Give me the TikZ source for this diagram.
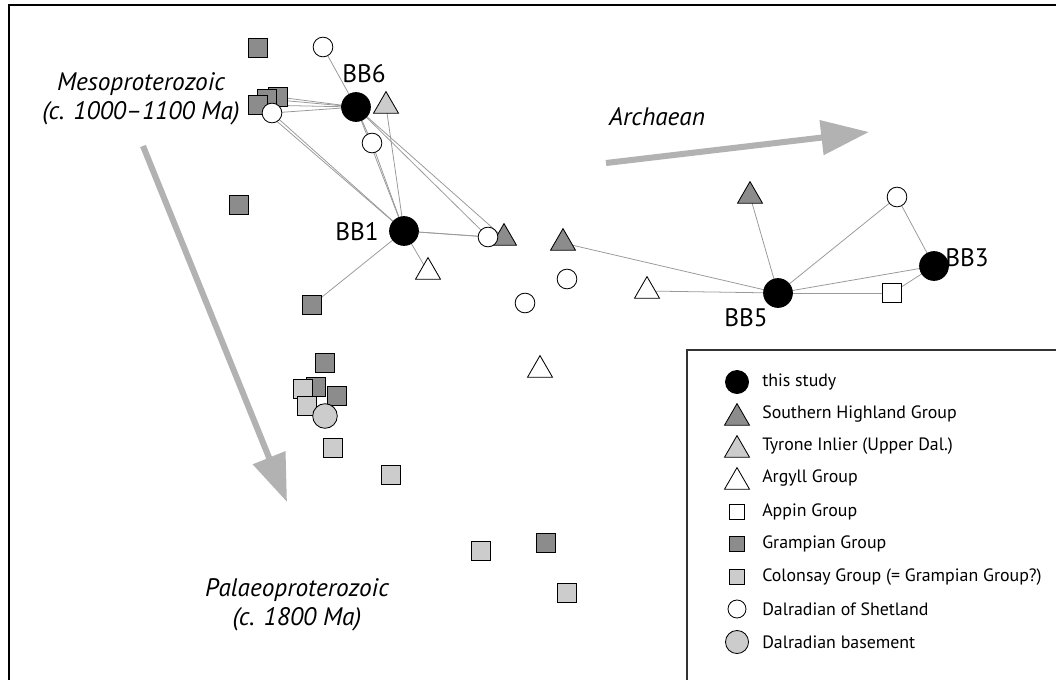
\documentclass[tikz,border=0pt]{standalone}
\usepackage{fontspec}
\setmainfont{PT Sans}
\usetikzlibrary{shapes.geometric,arrows.meta,backgrounds}

\definecolor{darkgrey}{gray}{0.55}
\definecolor{lightgrey}{gray}{0.8}
\definecolor{arrowgrey}{gray}{0.7}
\definecolor{linkgrey}{gray}{0.6}

\tikzset{
  sample/.style={draw=black, line width=0.6pt, inner sep=0pt, outer sep=0pt},
  thisstudy/.style={sample, circle, fill=black, minimum size=20.5pt},
  shg/.style={sample, regular polygon, regular polygon sides=3, fill=darkgrey, minimum size=20.5pt},
  tyrone/.style={shg, fill=lightgrey},
  argyll/.style={shg, fill=white},
  appin/.style={sample, rectangle, fill=white, minimum size=13pt},
  grampian/.style={appin, fill=darkgrey},
  colonsay/.style={appin, fill=lightgrey},
  shetland/.style={sample, circle, fill=white, minimum size=14pt},
  basement/.style={sample, circle, fill=lightgrey, minimum size=17.5pt},
  link/.style={draw=linkgrey, line width=0.55pt},
  trend/.style={draw=arrowgrey, line width=4.3pt, -{Triangle[length=34pt,width=24pt]}},
  era/.style={font=\fontsize{18}{21}\selectfont\itshape, align=center},
  sitelabel/.style={font=\fontsize{18}{21}\selectfont},
  keytext/.style={font=\fontsize{12.7}{15}\selectfont, anchor=west, inner sep=0pt}
}

\begin{document}
\begin{tikzpicture}[x=0.025cm, y=-0.025cm]
  \useasboundingbox (0,0) rectangle (1056,679);
  \clip (0,0) rectangle (1056,679);

  % Frame
  \draw[line width=1.4pt] (9,685) -- (9,5) -- (1062,5);

  % Trends
  \coordinate (mesoStart) at (143,146);
  \coordinate (mesoEnd) at (287,502);
  \coordinate (archStart) at (606,163);
  \coordinate (archEnd) at (869,132);
  \draw[trend] (mesoStart) -- (mesoEnd);
  \draw[trend] (archStart) -- (archEnd);

  \node[era] (meso) at (141,99) {Mesoproterozoic\\(c. 1000--1100 Ma)};
  \node[era] (palaeo) at (297,605) {Palaeoproterozoic\\(c. 1800 Ma)};
  \node[era] (arch) at (657,117) {Archaean};

  % Top-left group
  \node[grampian] (gA) at (258,48) {};
  \node[shetland] (shA) at (323,47) {};
  \node[grampian] (gD) at (278,97) {};
  \node[grampian] (gC) at (267,99) {};
  \node[grampian] (gB) at (258,105) {};
  \node[shetland] (shB) at (272,113) {};
  \node[thisstudy] (bb6) at (356,107) {};
  \node[tyrone] (tyA) at (386,106) {};
  \node[shetland] (shC) at (372,143) {};
  \node[grampian] (gE) at (239,205) {};
  \node[thisstudy] (bb1) at (404,231) {};
  \node[shg] (shgA) at (504,238) {};
  \node[shetland] (shD) at (488,237) {};
  \node[shg] (shgB) at (563,243) {};
  \node[argyll] (arA) at (428,272) {};
  \node[shetland] (shE) at (567,279) {};
  \node[shetland] (shF) at (525,303) {};
  \node[grampian] (gF) at (312,305) {};
  \node[argyll] (arB) at (540,370) {};

  \node[sitelabel] (bb6lbl) at (364,74) {BB6};
  \node[sitelabel] (bb1lbl) at (357,232) {BB1};

  % Right group
  \node[shg] (shgC) at (750,196) {};
  \node[argyll] (arC) at (647,291) {};
  \node[thisstudy] (bb5) at (778,293) {};
  \node[shetland] (shG) at (897,197) {};
  \node[thisstudy] (bb3) at (934,266) {};
  \node[appin] (apA) at (892,293) {};

  \node[sitelabel] (bb5lbl) at (746,318) {BB5};
  \node[sitelabel] (bb3lbl) at (967,258) {BB3};

  % Bottom-left group
  \node[grampian] (gG) at (325,363) {};
  \node[grampian] (gH) at (316,387) {};
  \node[colonsay] (coA) at (303,389) {};
  \node[grampian] (gI) at (337,396) {};
  \node[colonsay] (coB) at (307,406) {};
  \node[basement] (basA) at (325,416) {};
  \node[colonsay] (coC) at (333,448) {};
  \node[colonsay] (coD) at (391,475) {};
  \node[colonsay] (coE) at (481,551) {};
  \node[grampian] (gJ) at (546,543) {};
  \node[colonsay] (coF) at (567,593) {};

  % Links
  \begin{scope}[on background layer]
    \draw[link] (gB) -- (bb6);
    \draw[link] (gC) -- (bb6);
    \draw[link] (gD) -- (bb6);
    \draw[link] (shB) -- (bb6);
    \draw[link] (shB) -- (bb1);
    \draw[link] (gB) -- (bb1);
    \draw[link] (shA) -- (bb6);
    \draw[link] (bb6) -- (shC);
    \draw[link] (shC) -- (bb1);
    \draw[link] (bb6) -- (bb1);
    \draw[link] (tyA) -- (bb1);
    \draw[link] (bb6) -- (shD);
    \draw[link] (bb6) -- (shgA);
    \draw[link] (bb1) -- (shD);
    \draw[link] (bb1) -- (shgA);
    \draw[link] (bb1) -- (arA);
    \draw[link] (bb1) -- (gF);
    \draw[link] (bb5) -- (shgB);
    \draw[link] (bb5) -- (arC);
    \draw[link] (bb5) -- (shgC);
    \draw[link] (bb5) -- (shG);
    \draw[link] (bb5) -- (bb3);
    \draw[link] (bb5) -- (apA);
    \draw[link] (bb3) -- (shG);
    \draw[link] (bb3) -- (apA);
  \end{scope}

  % Legend
  \draw[line width=0.8pt, draw=black!80] (687,690) -- (687,350) -- (1062,350);
  \node[thisstudy, minimum size=16.4pt] (kA) at (737,382) {};
  \node[shg] (kB) at (737,418) {};
  \node[tyrone] (kC) at (737,450) {};
  \node[argyll] (kD) at (737,482) {};
  \node[appin, minimum size=10.7pt] (kE) at (737,512) {};
  \node[grampian, minimum size=10.7pt] (kF) at (737,544) {};
  \node[colonsay, minimum size=10.7pt] (kG) at (737,577) {};
  \node[shetland, minimum size=12.8pt] (kH) at (737,609) {};
  \node[basement, minimum size=16.4pt] (kI) at (737,642) {};

  \node[keytext] (tA) at (762,382) {this study};
  \node[keytext] (tB) at (762,414) {Southern Highland Group};
  \node[keytext] (tC) at (762,446) {Tyrone Inlier (Upper Dal.)};
  \node[keytext] (tD) at (762,478) {Argyll Group};
  \node[keytext] (tE) at (762,512) {Appin Group};
  \node[keytext] (tF) at (762,544) {Grampian Group};
  \node[keytext] (tG) at (762,577) {Colonsay Group (= Grampian Group?)};
  \node[keytext] (tH) at (762,609) {Dalradian of Shetland};
  \node[keytext] (tI) at (762,642) {Dalradian basement};
\end{tikzpicture}
\end{document}
